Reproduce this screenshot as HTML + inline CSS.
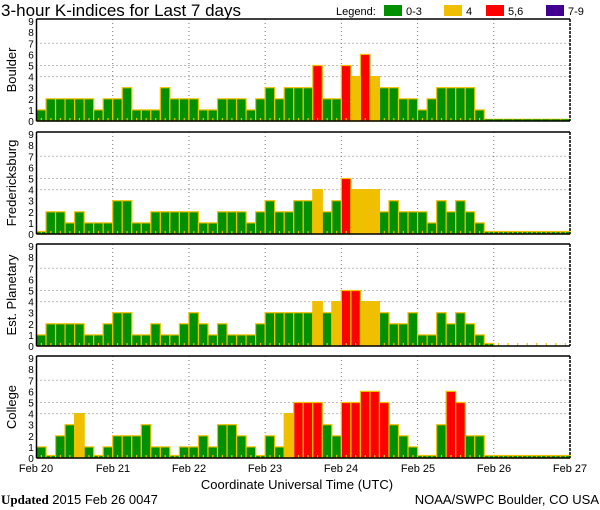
<!DOCTYPE html>
<html><head><meta charset="utf-8"><style>
body{margin:0;background:#fff;}
svg{display:block;font-family:"Liberation Sans",sans-serif;}
</style></head><body>
<svg id="s" width="600" height="510" viewBox="0 0 600 510" xmlns="http://www.w3.org/2000/svg">
<rect width="600" height="510" fill="#fff"/>
<text x="1" y="16" font-size="17">3-hour K-indices for Last 7 days</text>
<text x="336" y="15" font-size="11">Legend:</text>
<rect x="384" y="5" width="18" height="11" fill="#009000"/><text x="406" y="15" font-size="11">0-3</text>
<rect x="444" y="5" width="18" height="11" fill="#f0c000"/><text x="466" y="15" font-size="11">4</text>
<rect x="486" y="5" width="18" height="11" fill="#ff0000"/><text x="508" y="15" font-size="11">5,6</text>
<rect x="546" y="5" width="18" height="11" fill="#400090"/><text x="568" y="15" font-size="11">7-9</text>
<g id="g"></g>
<g font-size="11" text-anchor="middle">
<text x="36" y="472">Feb 20</text><text x="113" y="472">Feb 21</text><text x="189" y="472">Feb 22</text><text x="265" y="472">Feb 23</text><text x="341" y="472">Feb 24</text><text x="418" y="472">Feb 25</text><text x="494" y="472">Feb 26</text><text x="570" y="472">Feb 27</text>
</g>
<text x="297" y="489" font-size="13" text-anchor="middle">Coordinate Universal Time (UTC)</text>
<text x="1" y="504" font-size="13"><tspan font-family="Liberation Serif" font-weight="bold">Updated</tspan> 2015 Feb 26 0047</text>
<text x="599" y="504" font-size="13" text-anchor="end">NOAA/SWPC Boulder, CO USA</text>
<text transform="translate(16,70) rotate(-90)" font-size="13" text-anchor="middle">Boulder</text>
<text transform="translate(16,183) rotate(-90)" font-size="13" text-anchor="middle">Fredericksburg</text>
<text transform="translate(16,295) rotate(-90)" font-size="13" text-anchor="middle">Est. Planetary</text>
<text transform="translate(16,407) rotate(-90)" font-size="13" text-anchor="middle">College</text>
</svg>
<script>
var N=null;
var data=[
[1,2,2,2,2,2,1,2,2,3,1,1,1,3,2,2,2,1,1,2,2,2,1,2,3,2,3,3,3,5,2,2,5,4,6,4,3,3,2,2,1,2,3,3,3,3,1,-1,-1,-1,-1,-1,-1,-1,-1,-1],
[0,2,2,1,2,1,1,1,3,3,1,1,2,2,2,2,2,1,1,2,2,2,1,2,3,2,2,3,3,4,2,3,5,4,4,4,2,3,2,2,2,1,3,2,3,2,1,0,0,0,0,0,0,0,0,0],
[1,2,2,2,2,1,1,2,3,3,1,1,2,1,1,2,3,2,1,2,1,1,1,2,3,3,3,3,3,4,3,4,5,5,4,4,3,2,2,3,1,1,3,2,3,2,1,0,N,N,N,N,N,N,N,N],
[1,0,2,3,4,1,0,1,2,2,2,3,1,1,0,1,1,2,1,3,3,2,1,0,2,1,4,5,5,5,3,2,5,5,6,6,5,3,2,1,0,0,3,6,5,2,2,0,0,0,0,0,0,0,0,0]];
var tops=[19,132,244,356],H=102,L=36.5,R=570,bw=(R-L)/56,u=11.1;
var s='';
for(var p=0;p<4;p++){
 var T=tops[p],B=T+H;
 [4,5,7].forEach(function(v){var y=B-v*u;s+='<line x1="'+L+'" x2="'+R+'" y1="'+y+'" y2="'+y+'" stroke="#777" stroke-dasharray="1,3"/>';});
 for(var d=1;d<7;d++){var x=L+d*8*bw;s+='<line x1="'+x+'" x2="'+x+'" y1="'+T+'" y2="'+B+'" stroke="#777" stroke-dasharray="1,3"/>';}
 for(var i=0;i<56;i++){
  var v=data[p][i],x=L+i*bw;
  if(v===null||v===undefined){s+='<rect x="'+(x+bw/2-0.5)+'" y="'+(B-3)+'" width="1.2" height="3" fill="#f0c000"/>';continue;}
  if(v<0){s+='<rect x="'+x+'" y="'+(B-2)+'" width="'+bw+'" height="2" fill="#009000" stroke="#f0c000" stroke-width="0.6"/>';continue;}
  var h=v==0?2.5:v*u;
  var c=v<=3?'#009000':v==4?'#f0c000':v<=6?'#ff0000':'#400090';
  s+='<rect x="'+x+'" y="'+(B-h)+'" width="'+bw+'" height="'+h+'" fill="'+c+'" stroke="#f0c000" stroke-width="1.2"/>';
  s+='<rect x="'+(x+bw/2-0.5)+'" y="'+(B-3)+'" width="1.2" height="3" fill="#f0c000"/>';
 }
 s+='<line x1="'+L+'" x2="'+R+'" y1="'+T+'" y2="'+T+'" stroke="#000" stroke-width="1.5"/>';
 s+='<line x1="'+L+'" x2="'+R+'" y1="'+B+'" y2="'+B+'" stroke="#000" stroke-width="1.5"/>';
 s+='<line x1="'+L+'" x2="'+L+'" y1="'+T+'" y2="'+B+'" stroke="#000" stroke-width="1.5"/>';
 s+='<line x1="'+R+'" x2="'+R+'" y1="'+T+'" y2="'+B+'" stroke="#000" stroke-width="1.5" stroke-dasharray="3,1"/>';
 for(var k=0;k<=9;k++){s+='<text x="31" y="'+(B-k*u+4)+'" font-size="10" text-anchor="middle">'+k+'</text>';}
}
document.getElementById('g').innerHTML=s;
</script>
</body></html>
